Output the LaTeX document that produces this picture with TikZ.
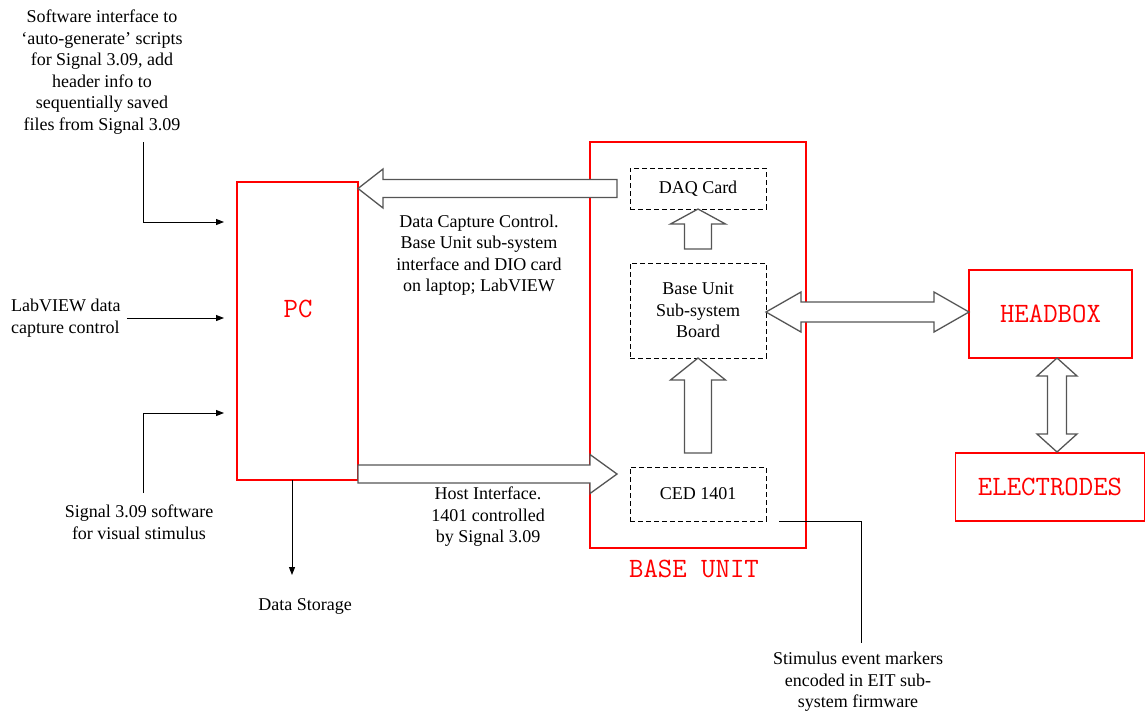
\documentclass[tikz,border=0pt]{standalone}
\usepackage{fontspec}
\setmainfont{Liberation Serif}
\usepackage{tikz}
\usepackage{xcolor}
\usetikzlibrary{arrows.meta,calc}
\definecolor{boxred}{RGB}{255,0,0}
\definecolor{arrowgray}{RGB}{85,85,85}

\begin{document}
\begin{tikzpicture}[x=1pt, y=-1pt, >={Triangle[length=8pt,width=6pt]},
    redbox/.style={draw=boxred, line width=1.1pt, inner sep=0pt, outer sep=0pt,
        text=boxred, font=\ttfamily\fontsize{28}{32}\selectfont},
    redlabel/.style={text=boxred, font=\ttfamily\fontsize{28}{32}\selectfont},
    subbox/.style={draw=black, dashed, dash pattern=on 5pt off 3pt, line width=0.9pt,
        minimum width=136pt, inner sep=0pt, outer sep=0pt, align=center,
        font=\fontsize{18}{21.5}\selectfont},
    blockarr/.style={draw=arrowgray, fill=white, line width=1.3pt, line join=miter},
    note/.style={align=center, inner sep=0pt, font=\fontsize{18}{21.5}\selectfont},
    wire/.style={draw=black, line width=1pt}]
    \useasboundingbox (0,0) rectangle (1145,713);

    % Main boxes
    \node[redbox, minimum width=121pt, minimum height=298pt] (pc) at (297.5,331) {};
    \node[redlabel] (pclabel) at (298,309) {PC};
    \node[redbox, minimum width=216pt, minimum height=406pt] (base) at (698,345) {};
    \node[redlabel] (baselabel) at (694,569) {BASE UNIT};
    \node[redbox, minimum width=163pt, minimum height=88pt] (headbox) at (1050.5,314) {HEADBOX};
    \node[redbox, minimum width=189pt, minimum height=68pt] (electrodes) at (1050,487) {ELECTRODES};

    % Sub-systems inside base unit
    \node[subbox, minimum height=41pt] (daq) at (698,188.5) {DAQ Card};
    \node[subbox, minimum height=95pt] (board) at (698,310.5) {Base Unit\\Sub-system\\Board};
    \node[subbox, minimum height=54pt] (ced) at (698,494) {CED 1401};

    % Block arrows
    \draw[blockarr] (pc.east |- daq) -- ++(25,-19.5) -- ++(0,10.5) -- ++(234,0) -- ++(0,18)
        -- ++(-234,0) -- ++(0,10.5) -- cycle;
    \draw[blockarr] ($(ced.west)+(-13,-20)$) -- ++(-27,-19.5) -- ++(0,10.5) -- ++(-232,0)
        -- ++(0,18) -- ++(232,0) -- ++(0,10.5) -- cycle;
    \draw[blockarr] (daq.south) -- ++(27.5,15) -- ++(-14,0) -- ++(0,25) -- ++(-27,0)
        -- ++(0,-25) -- ++(-14,0) -- cycle;
    \draw[blockarr] (board.south) -- ++(27.5,22) -- ++(-14,0) -- ++(0,73) -- ++(-27,0)
        -- ++(0,-73) -- ++(-14,0) -- cycle;
    \draw[blockarr] (board.east |- 0,312) -- ++(35,-20) -- ++(0,10) -- ++(133,0) -- ++(0,-10)
        -- (headbox.west |- 0,312) -- ++(-35,20) -- ++(0,-10) -- ++(-133,0) -- ++(0,10) -- cycle;
    \draw[blockarr] ($(headbox.south)+(6.5,0)$) -- ++(20,18) -- ++(-10.5,0) -- ++(0,58)
        -- ++(10.5,0) -- ++(-20,18) -- ++(-20,-18) -- ++(10.5,0) -- ++(0,-58) -- ++(-10.5,0) -- cycle;

    % Labels on the block arrows
    \node[note] (capture) at (479,255) {Data Capture Control.\\Base Unit sub-system\\interface and DIO card\\on laptop; LabVIEW};
    \node[note] (host) at (488,517) {Host Interface.\\1401 controlled\\by Signal 3.09};

    % Inputs to PC
    \node[note] (software) at (102,72) {Software interface to\\`auto-generate' scripts\\for Signal 3.09, add\\header info to\\sequentially saved\\files from Signal 3.09};
    \node[note, align=left, anchor=west] (labview) at (11,318) {LabVIEW data\\capture control};
    \node[note] (signal) at (139,522) {Signal 3.09 software\\for visual stimulus};
    \coordinate (swfoot) at (143,142);
    \coordinate (sigtop) at (143,493);
    \coordinate (in1) at (224,222);
    \coordinate (in2) at (224,318);
    \coordinate (in3) at (224,413);
    \draw[wire, ->] (swfoot) |- (in1);
    \draw[wire, ->] ($(labview.east)+(6,0)$) -- (in2);
    \draw[wire, ->] (sigtop) |- (in3);

    % Storage and stimulus markers
    \node[note] (storage) at (305,606) {Data Storage};
    \coordinate (storetop) at (292,575);
    \draw[wire, ->] (pc.south -| storetop) -- (storetop);
    \node[note] (stimulus) at (858,682) {Stimulus event markers\\encoded in EIT sub-\\system firmware};
    \coordinate (stimtop) at (861,643);
    \draw[wire] ($(ced.south east)+(13,0)$) -| (stimtop);
\end{tikzpicture}
\end{document}
